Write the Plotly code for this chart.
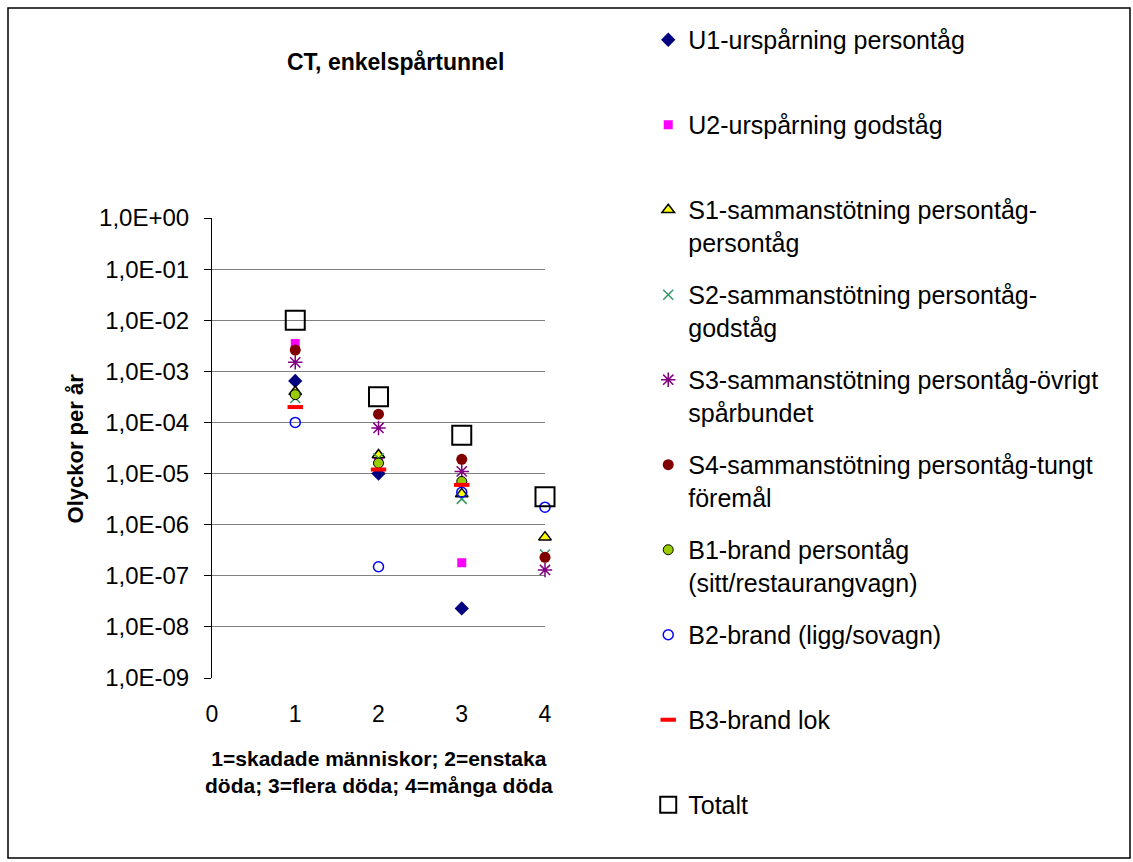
import plotly.graph_objects as go

x_vals = [1, 2, 3, 4]

names = [
    "U1-urspårning persontåg",
    "U2-urspårning godståg",
    "S1-sammanstötning persontåg-<br>persontåg",
    "S2-sammanstötning persontåg-<br>godståg",
    "S3-sammanstötning persontåg-övrigt<br>spårbundet",
    "S4-sammanstötning persontåg-tungt<br>föremål",
    "B1-brand persontåg<br>(sitt/restaurangvagn)",
    "B2-brand (ligg/sovagn)",
    "B3-brand lok",
    "Totalt",
]

U1 = [6.5e-4, 1.0e-5, 2.3e-8, None]
U2 = [3.5e-3, 1.9e-5, 1.8e-7, None]
S1 = [4.0e-4, 2.3e-5, 4.0e-6, 5.7e-7]
S2 = [3.0e-4, 2.0e-5, 3.2e-6, 2.6e-7]
S3 = [1.5e-3, 7.8e-5, 1.1e-5, 1.3e-7]
S4 = [2.6e-3, 1.45e-4, 1.9e-5, 2.3e-7]
B1 = [3.5e-4, 1.6e-5, 7.0e-6, None]
B2 = [1.0e-4, 1.5e-7, 4.3e-6, 2.2e-6]
B3 = [2.0e-4, 1.2e-5, 6.0e-6, None]
Totalt = [1.0e-2, 3.2e-4, 5.6e-5, 3.5e-6]

series = [U1, U2, S1, S2, S3, S4, B1, B2, B3, Totalt]

tick_vals = [1e0, 1e-1, 1e-2, 1e-3, 1e-4, 1e-5, 1e-6, 1e-7, 1e-8, 1e-9]
tick_text = ["1,0E+00", "1,0E-01", "1,0E-02", "1,0E-03", "1,0E-04",
             "1,0E-05", "1,0E-06", "1,0E-07", "1,0E-08", "1,0E-09"]

styles = [
    dict(symbol="diamond", size=11, color="#000080", line=dict(width=0)),
    dict(symbol="square", size=9, color="#FF00FF", line=dict(width=0)),
    dict(symbol="triangle-up", size=11, color="#FFFF00", line=dict(width=1.5, color="black")),
    dict(symbol="x-thin-open", size=10, color="#339966", line=dict(width=1.5, color="#339966")),
    dict(symbol="asterisk-open", size=12, color="#800080", line=dict(width=1.5, color="#800080")),
    dict(symbol="circle", size=11, color="#800000", line=dict(width=0)),
    dict(symbol="circle", size=10, color="#99CC00", line=dict(width=1, color="black")),
    dict(symbol="circle-open", size=10, color="#0000FF", line=dict(width=1.5, color="#0000FF")),
    dict(symbol="line-ew-open", size=11, color="#FF0000", line=dict(width=4, color="#FF0000")),
    dict(symbol="square-open", size=19, color="black", line=dict(width=2, color="black")),
]

fig = go.Figure()
for i, (nm, ys, st) in enumerate(zip(names, series, styles)):
    label = nm if "<br>" in nm else nm + "<br> "
    fig.add_trace(go.Scatter(
        x=x_vals, y=ys, mode="markers", name=label, marker=st,
        cliponaxis=False, legendgroup=str(i),
    ))

font = "Arial, Liberation Sans, sans-serif"

fig.update_layout(
    width=1133, height=862,
    margin=dict(l=212, r=588, t=218, b=184),
    paper_bgcolor="white", plot_bgcolor="white",
    font=dict(family=font, color="black"),
    showlegend=True,
    legend=dict(
        x=1.31, y=1.437, xanchor="left", yanchor="top",
        font=dict(size=25, family=font), valign="top",
        tracegroupgap=17, itemwidth=30, maxheight=1.0,
        bgcolor="rgba(0,0,0,0)",
    ),
    annotations=[
        dict(text="<b>CT, enkelspårtunnel</b>", xref="paper", yref="paper",
             x=0.55, y=1.34, xanchor="center", yanchor="middle",
             showarrow=False, font=dict(size=23, family=font)),
        dict(text="<b>1=skadade människor; 2=enstaka<br>döda; 3=flera döda; 4=många döda</b>",
             xref="paper", yref="paper", x=0.5, y=-0.145, xanchor="center", yanchor="top",
             showarrow=False, font=dict(size=21, family=font)),
        dict(text="<b>Olyckor per år</b>", xref="paper", yref="paper",
             x=-0.41, y=0.5, xanchor="center", yanchor="middle", textangle=-90,
             showarrow=False, font=dict(size=22, family=font)),
    ],
    shapes=[
        dict(type="rect", xref="paper", yref="paper",
             x0=(8 - 212) / 333, x1=(1130 - 212) / 333,
             y0=(862 - 858 - 184) / 460, y1=(862 - 8 - 184) / 460,
             line=dict(color="black", width=1.5), fillcolor="rgba(0,0,0,0)", layer="below"),
    ],
)

fig.update_xaxes(
    range=[0, 4], tickvals=[0, 1, 2, 3, 4], ticktext=["0", "1", "2", "3", "4"],
    showgrid=False, zeroline=False, showline=False, ticks="",
    tickfont=dict(size=23, family=font), ticklabelstandoff=20,
)
fig.update_yaxes(
    type="log", range=[-9, 0], tickvals=tick_vals, ticktext=tick_text,
    showgrid=True, gridcolor="#808080", gridwidth=1,
    showline=True, linecolor="black", linewidth=1,
    ticks="outside", ticklen=7, tickcolor="black",
    tickfont=dict(size=24, family=font), zeroline=False, ticklabelstandoff=10,
)

fig.write_html("out.html")
